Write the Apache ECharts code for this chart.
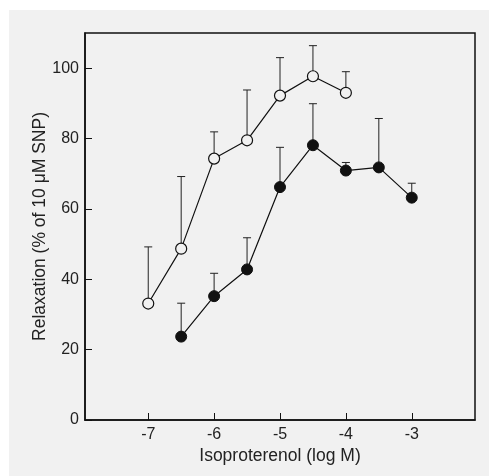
<!DOCTYPE html>
<html>
<head>
<meta charset="utf-8">
<script src="https://cdn.jsdelivr.net/npm/echarts@6/dist/echarts.min.js"></script>
<style>
  html, body { margin: 0; padding: 0; background: #fff; }
  #chart { width: 489px; height: 476px; }
</style>
</head>
<body>
<div id="chart"></div>
<script>
// log concentrations
const doseOpen = [-7, -6.5, -6, -5.5, -5, -4.5, -4]
const meanOpen = [33.1, 48.7, 74.3, 79.5, 92.2, 97.7, 93]
const upperOpen = [49.2, 69.2, 81.9, 93.8, 103, 106.4, 99]

const doseFilled = [-6.5, -6, -5.5, -5, -4.5, -4, -3.5, -3]
const meanFilled = [23.7, 35.2, 42.8, 66.2, 78.1, 70.9, 71.8, 63.2]
const upperFilled = [33.2, 41.7, 51.8, 77.5, 89.9, 73.2, 85.7, 67.3]

const xTicks = [-7, -6, -5, -4, -3]
const yTicks = [0, 20, 40, 60, 80, 100]

const panel = '#f1f1f1'
const ink = '#111'
const font = 'Liberation Sans, Arial, sans-serif'

const pts = (xs, ys) => xs.map((x, i) => [x, ys[i]])
const bars = (xs, ys, tops) => xs.map((x, i) => [x, ys[i], tops[i]])

const errorBars = (data) => ({
  type: 'custom',
  data,
  z: 2,
  silent: true,
  renderItem: (params, api) => {
    const base = api.coord([api.value(0), api.value(1)])
    const top = api.coord([api.value(0), api.value(2)])
    const style = { stroke: '#222', lineWidth: 1 }
    return {
      type: 'group',
      children: [
        { type: 'line', shape: { x1: base[0], y1: base[1], x2: top[0], y2: top[1] }, style },
        { type: 'line', shape: { x1: top[0] - 4, y1: top[1], x2: top[0] + 4, y2: top[1] }, style }
      ]
    }
  }
})

const chart = echarts.init(document.getElementById('chart'))

chart.setOption({
  animation: false,
  backgroundColor: '#fff',
  graphic: [{
    type: 'rect',
    z: -10,
    shape: { x: 9, y: 10, width: 480, height: 466 },
    style: { fill: panel }
  }],
  grid: {
    left: 85, top: 33, right: 14, bottom: 56,
    show: true,
    borderColor: ink,
    borderWidth: 1.5,
    backgroundColor: panel
  },
  xAxis: {
    type: 'value',
    min: -7.96,
    max: -2.04,
    name: 'Isoproterenol (log M)',
    nameLocation: 'middle',
    nameGap: 27,
    nameMoveOverlap: false,
    nameTextStyle: { fontFamily: font, fontSize: 17.5, color: '#222' },
    axisLine: { lineStyle: { color: ink, width: 1.5 } },
    axisTick: { inside: true, length: 7, customValues: xTicks, lineStyle: { color: ink } },
    axisLabel: { customValues: xTicks, margin: 7, fontFamily: font, fontSize: 16, color: '#222' },
    splitLine: { show: false }
  },
  yAxis: {
    type: 'value',
    min: 0,
    max: 110,
    name: 'Relaxation (% of 10 μM SNP)',
    nameLocation: 'middle',
    nameGap: 36,
    nameMoveOverlap: false,
    nameTextStyle: { fontFamily: font, fontSize: 17.5, color: '#222' },
    axisLine: { lineStyle: { color: ink, width: 1.5 } },
    axisTick: { inside: true, length: 7, customValues: yTicks, lineStyle: { color: ink } },
    axisLabel: { customValues: yTicks, margin: 6, fontFamily: font, fontSize: 16, color: '#222' },
    splitLine: { show: false }
  },
  series: [
    errorBars(bars(doseOpen, meanOpen, upperOpen)),
    errorBars(bars(doseFilled, meanFilled, upperFilled)),
    {
      type: 'line',
      data: pts(doseOpen, meanOpen),
      z: 3,
      symbol: 'circle',
      symbolSize: 11,
      lineStyle: { color: ink, width: 1.2 },
      itemStyle: { color: panel, borderColor: ink, borderWidth: 1.2 }
    },
    {
      type: 'line',
      data: pts(doseFilled, meanFilled),
      z: 3,
      symbol: 'circle',
      symbolSize: 11,
      lineStyle: { color: ink, width: 1.2 },
      itemStyle: { color: ink, borderColor: ink, borderWidth: 1 }
    }
  ]
})
</script>
</body>
</html>
